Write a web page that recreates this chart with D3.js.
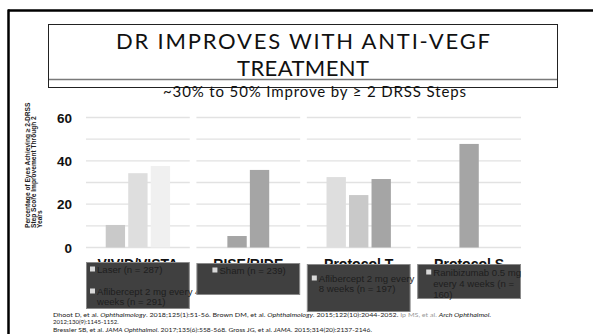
<!DOCTYPE html>
<html><head><meta charset="utf-8">
<script src="https://cdn.jsdelivr.net/npm/d3@7/dist/d3.min.js"></script>
<style>body{margin:0;background:#fff;}svg{display:block;}</style>
</head><body>
<svg id="c" width="593" height="334"></svg>
<script>
// ---- data ----
const categories = ["VIVID/VISTA", "RISE/RIDE", "Protocol T", "Protocol S"];
const vividVistaValues = [10.4, 34.3, 37.6];
const riseRideValues = [5.3, 35.8];
const protocolTValues = [32.5, 24.2, 31.6];
const protocolSValues = [47.8];
const yTicks = [0, 20, 40, 60];
const gridTicks = [0, 10, 20, 30, 40, 50, 60];
const legendVivid = [["Laser (n = 287)"], ["Aflibercept 2 mg every 4", "weeks (n = 291)"]];
const legendRise = [["Sham (n = 239)"]];
const legendProtocolT = [["Aflibercept 2 mg every", "8 weeks (n = 197)"]];
const legendProtocolS = [["Ranibizumab 0.5 mg", "every 4 weeks (n =", "160)"]];
const titleLines = ["DR IMPROVES WITH ANTI-VEGF", "TREATMENT"];
const subtitle = "~30% to 50% Improve by \u2265 2 DRSS Steps";
const yTitleLines = ["Percentage of Eyes Achieving \u2265 2-DRSS", "Step Score Improvement Through 2", "Years"];

// ---- styles / layout ----
const panelValues = [vividVistaValues, riseRideValues, protocolTValues, protocolSValues];
const panelColors = [["#c9c9c9", "#dedede", "#f0f0f0"], ["#a5a5a5", "#a5a5a5"], ["#dedede", "#c9c9c9", "#a5a5a5"], ["#a5a5a5"]];
const legends = [legendVivid, legendRise, legendProtocolT, legendProtocolS];
const legendLayout = [
  {y: 262, h: 46, pad: 4, lineY: [[273], [295, 305]]},
  {y: 263, h: 31, pad: 16, lineY: [[274]]},
  {y: 264, h: 47, pad: 5, lineY: [[282, 292]]},
  {y: 264, h: 34, pad: 9, lineY: [[276, 287, 298]]}
];

const svg = d3.select("#c");

// frame
svg.append("line").attr("x1", 8).attr("x2", 593).attr("y1", 10.5).attr("y2", 10.5).attr("stroke", "#000").attr("stroke-width", 2.5);
svg.append("line").attr("x1", 8.5).attr("x2", 8.5).attr("y1", 9.5).attr("y2", 334).attr("stroke", "#000").attr("stroke-width", 2.5);

// title box
svg.append("rect").attr("x", 48.5).attr("y", 24.5).attr("width", 509).attr("height", 63).attr("fill", "none").attr("stroke", "#222").attr("stroke-width", 1);
svg.append("line").attr("x1", 49).attr("x2", 557).attr("y1", 79.5).attr("y2", 79.5).attr("stroke", "#7a7a7a").attr("stroke-width", 1.3);
const tfont = "Lato, 'Open Sans', sans-serif";
svg.append("text").attr("x", 116).attr("y", 49).attr("font-family", tfont).attr("font-size", 22).attr("fill", "#111")
  .attr("textLength", 374).attr("lengthAdjust", "spacing").text(titleLines[0]);
svg.append("text").attr("x", 237).attr("y", 75.5).attr("font-family", tfont).attr("font-size", 22).attr("fill", "#111")
  .attr("textLength", 132).attr("lengthAdjust", "spacing").text(titleLines[1]);
svg.append("text").attr("x", 163).attr("y", 96.5).attr("font-family", tfont).attr("font-size", 15).attr("fill", "#111")
  .attr("textLength", 303).attr("lengthAdjust", "spacing").text(subtitle);

// scales
const y = d3.scaleLinear().domain([0, 60]).range([247.5, 117.5]);
const xPanel = d3.scaleBand().domain(categories).range([86, 521]).paddingInner(0.06);

// y tick labels
svg.append("g").selectAll("text").data(yTicks).join("text")
  .attr("x", 72).attr("y", d => y(d) + 5).attr("text-anchor", "end")
  .attr("font-family", "Arial, 'Liberation Sans', sans-serif").attr("font-weight", "bold").attr("font-size", 13.5).attr("fill", "#111")
  .text(d => d);

// y title
const yt = svg.append("text").attr("transform", "translate(29.5,228) rotate(-90)")
  .attr("font-family", "Arial, 'Liberation Sans', sans-serif").attr("font-weight", "bold").attr("font-size", 6.6).attr("fill", "#222");
yTitleLines.forEach((l, i) => yt.append("tspan").attr("x", 0).attr("y", i * 6.2).text(l));

categories.forEach((cat, pi) => {
  const x0 = xPanel(cat), bw = xPanel.bandwidth(), cx = x0 + bw / 2;
  const g = svg.append("g");
  // gridlines
  g.selectAll("line").data(gridTicks).join("line")
    .attr("x1", x0).attr("x2", x0 + bw).attr("y1", d => y(d)).attr("y2", d => y(d))
    .attr("stroke", "#e2e2e2").attr("stroke-width", 1.3);
  // bars
  const vals = panelValues[pi];
  const step = 22.5;
  const xb = d3.scaleBand().domain(d3.range(vals.length))
    .range([cx - vals.length * step / 2, cx + vals.length * step / 2]).paddingInner(0.14).paddingOuter(0.07);
  g.selectAll("rect").data(vals).join("rect")
    .attr("x", (d, i) => xb(i)).attr("width", xb.bandwidth())
    .attr("y", d => y(d)).attr("height", d => y(0) - y(d))
    .attr("fill", (d, i) => panelColors[pi][i]);
  // category label (partly covered by the legend box, as in the reference)
  svg.append("text").attr("x", cx).attr("y", 268.5).attr("text-anchor", "middle")
    .attr("font-family", "Arial, 'Liberation Sans', sans-serif").attr("font-weight", "bold").attr("font-size", 14).attr("fill", "#111")
    .text(cat);
});

// legend boxes
categories.forEach((cat, pi) => {
  const x0 = xPanel(cat), bw = xPanel.bandwidth();
  const L = legendLayout[pi];
  const g = svg.append("g");
  g.append("rect").attr("x", x0 + 0.5).attr("y", L.y + 0.5).attr("width", bw - 1).attr("height", L.h)
    .attr("fill", "#404040").attr("stroke", "#8a8a8a").attr("stroke-width", 1);
  legends[pi].forEach((item, ii) => {
    const ys = L.lineY[ii];
    g.append("rect").attr("x", x0 + L.pad).attr("y", ys[0] - 6.5).attr("width", 5).attr("height", 5).attr("fill", "#d9d9d9");
    item.forEach((line, li) => {
      g.append("text").attr("x", x0 + L.pad + 7).attr("y", ys[li])
        .attr("font-family", "Arial, 'Liberation Sans', sans-serif").attr("font-size", 9.6).attr("fill", "#1e1e1e")
        .text(line);
    });
  });
});

// footer references
const ff = "Lato, 'Open Sans', sans-serif";
const f1 = svg.append("text").attr("x", 53).attr("y", 317).attr("font-family", ff).attr("font-size", 6).attr("fill", "#222")
  .attr("textLength", 438).attr("lengthAdjust", "spacingAndGlyphs");
f1.append("tspan").text("Dhoot D, et al. ");
f1.append("tspan").attr("font-style", "italic").text("Ophthalmology");
f1.append("tspan").text(". 2018;125(1):51-56. Brown DM, et al. ");
f1.append("tspan").attr("font-style", "italic").text("Ophthalmology");
f1.append("tspan").text(". 2015;122(10):2044-2052. ");
f1.append("tspan").attr("fill", "#999").text("Ip MS, et al. ");
f1.append("tspan").attr("font-style", "italic").text("Arch Ophthalmol");
f1.append("tspan").text(".");
svg.append("text").attr("x", 53).attr("y", 324).attr("font-family", ff).attr("font-size", 6).attr("fill", "#222").text("2012;130(9):1145-1152.");
const f3 = svg.append("text").attr("x", 53).attr("y", 332).attr("font-family", ff).attr("font-size", 6).attr("fill", "#222")
  .attr("textLength", 319).attr("lengthAdjust", "spacingAndGlyphs");
f3.append("tspan").text("Bressler SB, et al. ");
f3.append("tspan").attr("font-style", "italic").text("JAMA Ophthalmol");
f3.append("tspan").text(". 2017;135(6):558-568. Gross JG, et al. ");
f3.append("tspan").attr("font-style", "italic").text("JAMA");
f3.append("tspan").text(". 2015;314(20):2137-2146.");
</script>
</body></html>
